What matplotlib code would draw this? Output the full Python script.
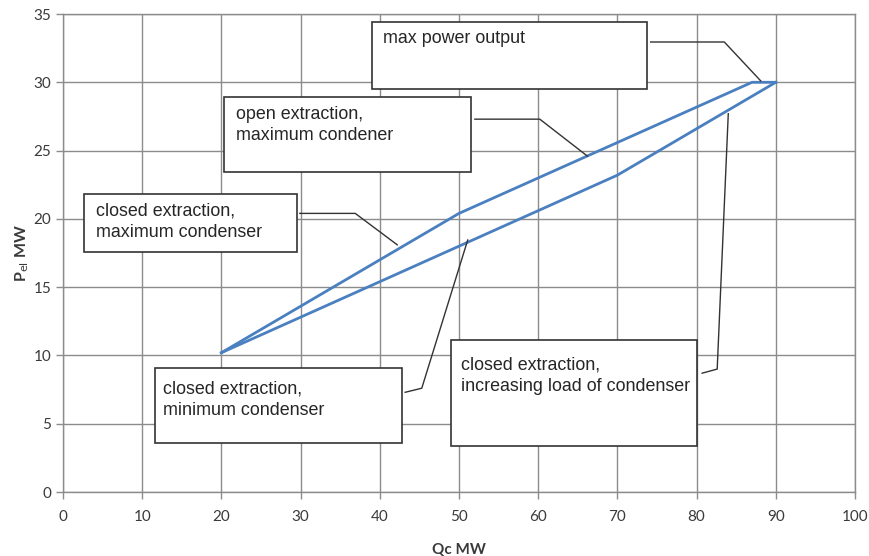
import matplotlib
matplotlib.use('Agg')
from matplotlib import pyplot as plt
from matplotlib.patches import Rectangle

# operating region of the CHP unit
upper_qc = [20, 50, 87, 90]
upper_pel = [10.2, 20.4, 30.0, 30.0]
lower_qc = [20, 70, 90]
lower_pel = [10.2, 23.2, 30.0]

x_ticks = list(range(0, 101, 10))
y_ticks = list(range(0, 36, 5))

box_texts = [
    'max power output',
    'open extraction,\nmaximum condener',
    'closed extraction,\nmaximum condenser',
    'closed extraction,\nminimum condenser',
    'closed extraction,\nincreasing load of condenser',
]

# box (x0, y0, x1, y1), text anchor, leader path -- all in data units
box_layout = [
    ((39.0, 29.5, 73.7, 34.4), (40.4, 33.8), [(74.2, 32.95), (83.5, 32.95), (88.1, 30.1)]),
    ((20.3, 23.4, 51.5, 28.9), (21.8, 28.3), [(52.0, 27.3), (60.2, 27.3), (66.2, 24.6)]),
    ((2.65, 17.6, 29.5, 21.8), (4.2, 21.2), [(29.9, 20.4), (36.9, 20.4), (42.2, 18.1)]),
    ((11.6, 3.6, 42.8, 9.1), (12.6, 8.2), [(43.2, 7.3), (45.3, 7.6), (51.1, 18.45)]),
    ((49.0, 3.4, 80.1, 11.1), (50.3, 9.9), [(80.7, 8.7), (82.6, 9.0), (84.0, 27.7)]),
]

fig = plt.figure(figsize=(8.7, 5.56), dpi=100)
ax = fig.add_axes([63 / 870, 64 / 556, 792 / 870, 478 / 556])

grid_col = '#8c8c8c'
ax.set_xlim(0, 100)
ax.set_ylim(0, 35)
ax.set_xticks(x_ticks)
ax.set_yticks(y_ticks)
ax.grid(True, color=grid_col, linewidth=1.0)
ax.set_axisbelow(True)
for s in ax.spines.values():
    s.set_color(grid_col)
    s.set_linewidth(1.0)
ax.tick_params(colors=grid_col, labelcolor='#3a3a3a', length=5, width=1.0,
               labelsize=11)
for lab in ax.get_xticklabels() + ax.get_yticklabels():
    lab.set_fontfamily('Lato')
ax.tick_params(axis='x', pad=8)

ax.plot(upper_qc, upper_pel, color='#4a7fc0', linewidth=2.0, zorder=3)
ax.plot(lower_qc, lower_pel, color='#4a7fc0', linewidth=2.0, zorder=3)

for txt, (box, anchor, path) in zip(box_texts, box_layout):
    x0, y0, x1, y1 = box
    ax.add_patch(Rectangle((x0, y0), x1 - x0, y1 - y0, facecolor='white',
                           edgecolor='#333333', linewidth=1.2, zorder=4))
    ax.text(anchor[0], anchor[1], txt, ha='left', va='top', fontsize=12.9,
            family='Liberation Sans', color='#262626', linespacing=1.35,
            zorder=5)
    ax.plot([p[0] for p in path], [p[1] for p in path], color='#333333',
            linewidth=1.0, zorder=5)

ax.set_xlabel('Qc MW', fontfamily='Lato', fontweight='bold', fontsize=11,
              color='#3a3a3a', labelpad=14)
ax.set_ylabel(r'P$_{\rm el}$ MW', fontfamily='Lato', fontweight='bold',
              fontsize=11.5, color='#3a3a3a', labelpad=2)

fig.savefig('out.png', dpi=100)
